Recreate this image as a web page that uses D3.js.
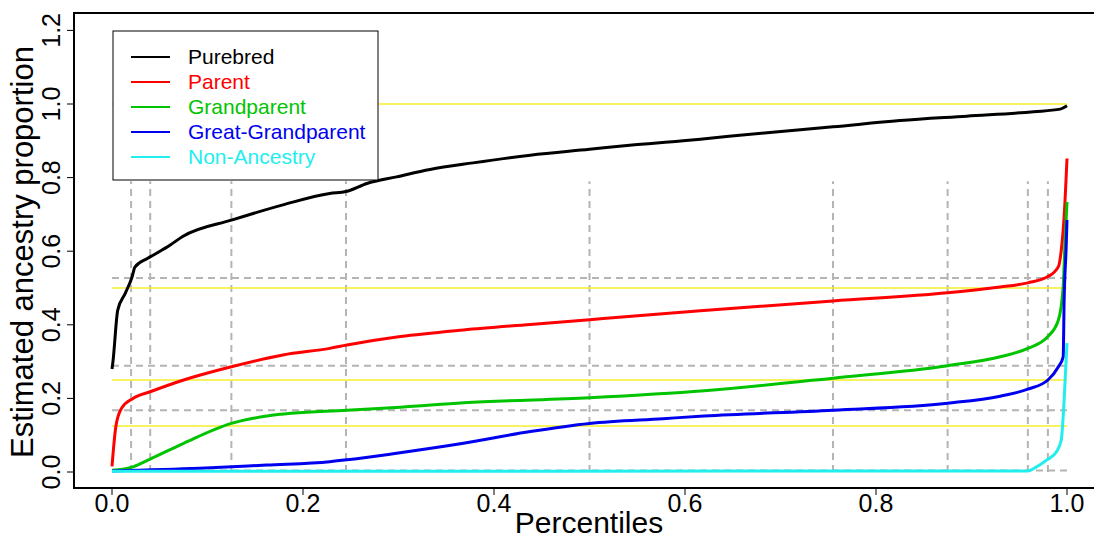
<!DOCTYPE html>
<html>
<head>
<meta charset="utf-8">
<script src="https://cdn.jsdelivr.net/npm/d3@7"></script>
<style>
  body { margin: 0; background: #fff; overflow: hidden; }
  svg { display: block; font-family: "Liberation Sans", Arial, sans-serif; }
</style>
</head>
<body>
<div id="chart"></div>
<script>
// series: [percentile, estimated proportion]
var purebred = [[0,0.28],[0.001,0.30],[0.006,0.44],[0.014,0.486],[0.021,0.53],[0.024,0.557],[0.037,0.58],[0.047,0.595],
  [0.061,0.617],[0.074,0.64],[0.126,0.685],[0.179,0.726],[0.228,0.757],[0.245,0.762],[0.267,0.784],[0.298,0.802],
  [0.333,0.822],[0.378,0.84],[0.438,0.861],[0.5,0.877],[0.542,0.888],[0.598,0.9],[0.626,0.907],[0.686,0.922],
  [0.755,0.938],[0.825,0.955],[0.895,0.967],[0.965,0.979],[0.993,0.986],[1.0,0.995]];
var parent = [[0,0.015],[0.004,0.123],[0.01,0.173],[0.022,0.2],[0.04,0.218],[0.075,0.25],[0.125,0.286],[0.179,0.318],
  [0.228,0.336],[0.246,0.345],[0.302,0.368],[0.368,0.386],[0.438,0.401],[0.5,0.414],[0.616,0.438],[0.755,0.465],
  [0.875,0.487],[0.93,0.503],[0.959,0.514],[0.98,0.531],[0.991,0.558],[0.994,0.603],[0.997,0.694],[1.0,0.852]];
var grandparent = [[0,0.005],[0.022,0.014],[0.04,0.035],[0.075,0.078],[0.125,0.132],[0.162,0.152],[0.246,0.168],
  [0.302,0.176],[0.368,0.188],[0.5,0.202],[0.62,0.221],[0.755,0.255],[0.875,0.289],[0.93,0.313],[0.959,0.336],
  [0.98,0.368],[0.991,0.413],[0.996,0.503],[0.998,0.63],[1.0,0.734]];
var greatGrandparent = [[0,0.003],[0.092,0.01],[0.162,0.019],[0.228,0.028],[0.246,0.033],[0.298,0.051],[0.368,0.078],
  [0.438,0.11],[0.5,0.132],[0.577,0.145],[0.62,0.152],[0.755,0.168],[0.875,0.187],[0.93,0.206],[0.959,0.225],
  [0.98,0.25],[0.991,0.286],[0.996,0.313],[0.997,0.467],[0.999,0.603],[1.0,0.685]];
var nonAncestry = [[0,0.002],[0.959,0.003],[0.968,0.014],[0.979,0.033],[0.989,0.055],[0.994,0.087],[0.997,0.196],[1.0,0.35]];

var seriesNames = ["Purebred", "Parent", "Grandparent", "Great-Grandparent", "Non-Ancestry"];
var seriesColors = ["#000000", "#ff0000", "#00c400", "#0000f0", "#22eeee"];
var allSeries = [purebred, parent, grandparent, greatGrandparent, nonAncestry];

var expectedLevels = [1.0, 0.5, 0.25, 0.125];
var vCuts = [0.02, 0.04, 0.125, 0.245, 0.5, 0.755, 0.875, 0.959, 0.98];
var hCuts = [0.527, 0.289, 0.168, 0.004];
var xTicks = [0, 0.2, 0.4, 0.6, 0.8, 1.0];
var yTicks = [0, 0.2, 0.4, 0.6, 0.8, 1.0, 1.2];

var W = 1094, H = 538;
var svg = d3.select("#chart").append("svg").attr("width", W).attr("height", H);

var x = d3.scaleLinear().domain([0, 1]).range([112, 1067]);
var y = d3.scaleLinear().domain([0, 1]).range([472, 104]);

// dashed grey cut lines
svg.selectAll(".vcut").data(vCuts).enter().append("line")
  .attr("x1", function(d) { return x(d); }).attr("x2", function(d) { return x(d); })
  .attr("y1", y(0)).attr("y2", y(0.79))
  .attr("stroke", "#b4b4b4").attr("stroke-width", 2).attr("stroke-dasharray", "7,5");
svg.selectAll(".hcut").data(hCuts).enter().append("line")
  .attr("x1", x(0)).attr("x2", x(1))
  .attr("y1", function(d) { return y(d); }).attr("y2", function(d) { return y(d); })
  .attr("stroke", "#b4b4b4").attr("stroke-width", 2).attr("stroke-dasharray", "7,5");

// expected proportions
svg.selectAll(".expected").data(expectedLevels).enter().append("line")
  .attr("x1", x(0)).attr("x2", x(1))
  .attr("y1", function(d) { return y(d); }).attr("y2", function(d) { return y(d); })
  .attr("stroke", "#f4ee2a").attr("stroke-width", 1.3);

var line = d3.line()
  .x(function(d) { return x(d[0]); })
  .y(function(d) { return y(d[1]); })
  .curve(d3.curveMonotoneX);

svg.selectAll(".series").data(allSeries).enter().append("path")
  .attr("d", line)
  .attr("fill", "none")
  .attr("stroke", function(d, i) { return seriesColors[i]; })
  .attr("stroke-width", 3)
  .attr("stroke-linejoin", "round");

// frame: left, top, bottom (the right side is past the picture)
svg.append("path")
  .attr("d", "M" + W + ",13H74V488H" + W)
  .attr("fill", "none").attr("stroke", "#000").attr("stroke-width", 2);

// x axis
var xAxis = svg.append("g");
xAxis.selectAll("line").data(xTicks).enter().append("line")
  .attr("x1", function(d) { return x(d); }).attr("x2", function(d) { return x(d); })
  .attr("y1", 488).attr("y2", 495).attr("stroke", "#000").attr("stroke-width", 1);
xAxis.selectAll("text").data(xTicks).enter().append("text")
  .attr("x", function(d) { return x(d); }).attr("y", 512)
  .attr("text-anchor", "middle").attr("font-size", 25).attr("fill", "#000")
  .text(function(d) { return d3.format(".1f")(d); });

// y axis
var yAxis = svg.append("g");
yAxis.selectAll("line").data(yTicks).enter().append("line")
  .attr("x1", 67).attr("x2", 74)
  .attr("y1", function(d) { return y(d); }).attr("y2", function(d) { return y(d); })
  .attr("stroke", "#000").attr("stroke-width", 1);
yAxis.selectAll("text").data(yTicks).enter().append("text")
  .attr("transform", function(d) { return "translate(60," + y(d) + ") rotate(-90)"; })
  .attr("text-anchor", "middle").attr("font-size", 25).attr("fill", "#000")
  .text(function(d) { return d3.format(".1f")(d); });

svg.append("text")
  .attr("x", 589).attr("y", 533)
  .attr("text-anchor", "middle").attr("font-size", 30)
  .text("Percentiles");
svg.append("text")
  .attr("transform", "translate(33,252) rotate(-90)")
  .attr("text-anchor", "middle").attr("font-size", 31)
  .text("Estimated ancestry proportion");

// legend
var legend = svg.append("g");
legend.append("rect").attr("x", 113).attr("y", 31).attr("width", 265).attr("height", 149)
  .attr("fill", "#fff").attr("stroke", "#000").attr("stroke-width", 1);
var rows = legend.selectAll(".row").data(seriesNames).enter().append("g")
  .attr("transform", function(d, i) { return "translate(0," + (57 + 25 * i) + ")"; });
rows.append("line").attr("x1", 131).attr("x2", 170)
  .attr("stroke", function(d, i) { return seriesColors[i]; }).attr("stroke-width", 2);
rows.append("text").attr("x", 188).attr("dy", "0.35em")
  .attr("font-size", 21)
  .attr("fill", function(d, i) { return seriesColors[i]; })
  .text(function(d) { return d; });
</script>
</body>
</html>
